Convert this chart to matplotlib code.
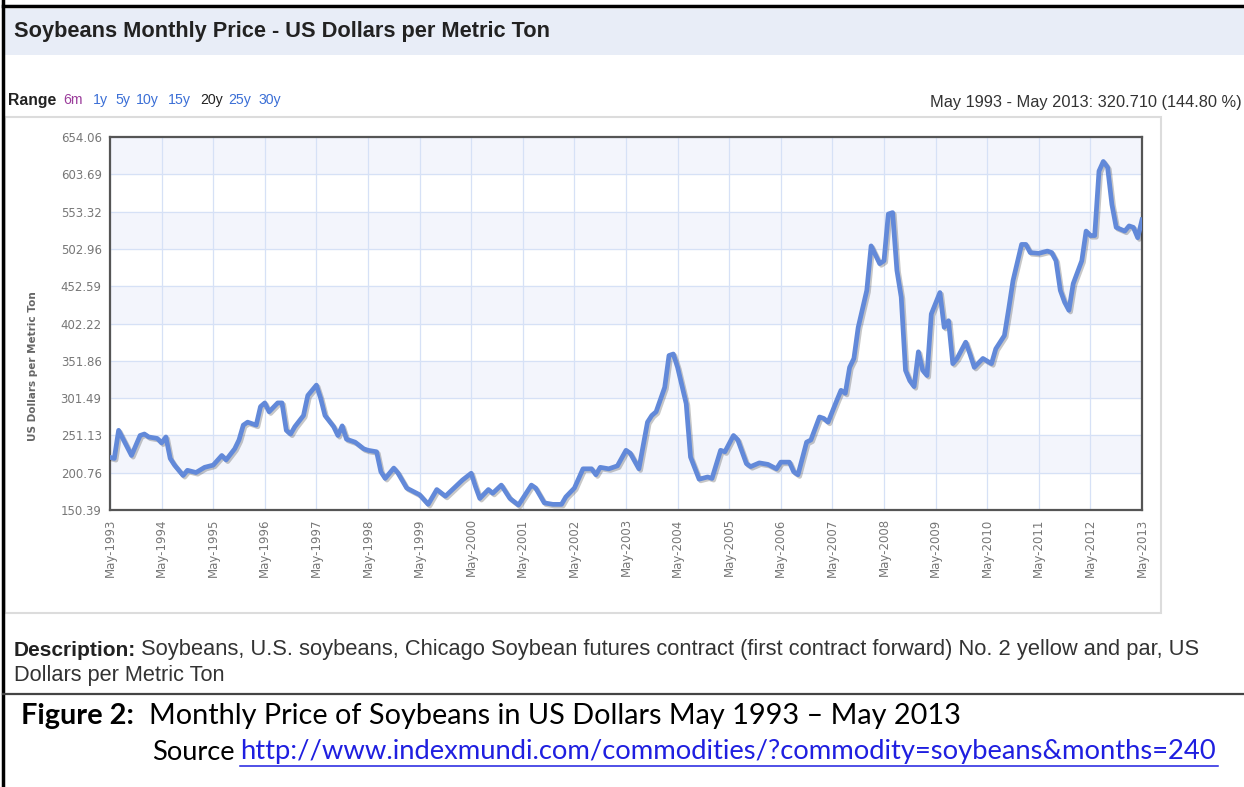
import matplotlib
matplotlib.use("Agg")
import matplotlib.pyplot as plt
import matplotlib.patheffects as pe
from matplotlib.patches import Rectangle
from matplotlib.lines import Line2D

W, H = 1244, 787

# months after May 1993 and price (USD / metric ton)
months = [0, 1, 2, 5, 7, 8, 9, 11, 12, 13, 14, 15, 17, 18, 20, 22, 24, 26, 27, 29,
          30, 31, 32, 34, 35, 36, 37, 39, 40, 41, 42, 43, 45, 46, 48, 49, 50, 52, 53, 54,
          55, 57, 59, 60, 62, 63, 64, 66, 67, 69, 70, 72, 74, 76, 78, 80, 82, 84, 85, 86,
          88, 89, 91, 93, 95, 96, 98, 99, 101, 103, 105, 106, 108, 110, 112, 113, 114, 116, 118, 120,
          121, 123, 125, 126, 127, 129, 130, 131, 132, 134, 135, 137, 139, 140, 142, 143, 145, 146, 148, 149,
          151, 153, 155, 156, 158, 159, 160, 162, 163, 165, 166, 167, 169, 170, 171, 172, 173, 174, 176, 177,
          179, 180, 181, 182, 183, 184, 185, 186, 187, 188, 189, 190, 191, 193, 194, 195, 196, 197, 199, 200,
          201, 203, 205, 206, 208, 209, 210, 212, 213, 214, 216, 218, 219, 220, 221, 222, 223, 224, 226, 227,
          228, 229, 230, 231, 232, 233, 234, 236, 237, 238, 239, 240]
prices = [221.5, 220, 258, 224, 251, 253, 249, 247, 241, 249, 220, 211, 197, 204, 201, 208, 211, 224, 218, 233,
          245, 265, 269, 265, 290, 295, 283, 295, 295, 258, 253, 263, 278, 305, 319, 301, 278, 263, 251, 264,
          246, 242, 233, 231, 229, 202, 193, 207, 200, 180, 177, 171, 158, 178, 169, 180, 191, 200, 182, 166,
          178, 173, 184, 166, 157, 166, 184, 180, 160, 158, 158, 168, 180, 206, 206, 198, 208, 206, 210, 231,
          227, 206, 269, 278, 283, 316, 359, 361, 343, 294, 222, 192, 195, 193, 231, 229, 251, 245, 213, 209,
          214, 212, 206, 215, 215, 202, 198, 242, 245, 276, 274, 269, 298, 312, 308, 343, 355, 397, 447, 507,
          483, 487, 550, 552, 474, 438, 339, 325, 317, 364, 339, 332, 415, 444, 397, 406, 348, 355, 377, 361,
          343, 355, 348, 368, 386, 422, 460, 509, 509, 498, 497, 500, 498, 487, 447, 431, 420, 456, 487, 527,
          521, 521, 608, 621, 613, 563, 532, 527, 534, 532, 518, 542.2]

tick_years = list(range(1993, 2014))
x_labels = ["May-%d" % yr for yr in tick_years]
y_ticks = [150.39, 200.76, 251.13, 301.49, 351.86, 402.22, 452.59, 502.96, 553.32, 603.69, 654.06]
y_labels = ["%.2f" % v for v in y_ticks]

range_words = ["6m", "1y", "5y", "10y", "15y", "20y", "25y", "30y"]
range_colors = ["#9b3d9b", "#3b6fd6", "#3b6fd6", "#3b6fd6", "#3b6fd6", "#222222", "#3b6fd6", "#3b6fd6"]
range_x = [63, 93, 115, 136, 168, 200, 228, 259]

title = "Soybeans Monthly Price - US Dollars per Metric Ton"
change_text = "May 1993 - May 2013: 320.710 (144.80 %)"
desc_line1 = "Soybeans, U.S. soybeans, Chicago Soybean futures contract (first contract forward) No. 2 yellow and par, US"
desc_line2 = "Dollars per Metric Ton"
caption = "Monthly Price of Soybeans in US Dollars May 1993 \u2013 May 2013"
link = "http://www.indexmundi.com/commodities/?commodity=soybeans&months=240"

fig = plt.figure(figsize=(W / 100, H / 100), dpi=100, facecolor="white")
renderer = fig.canvas.get_renderer()


def fx(x):
    return x / W


def fy(y):
    return 1 - y / H


def put(x, y, s, width=None, size=10, **kw):
    # place text by pixel position; optionally scale font to a target pixel width
    t = fig.text(fx(x), fy(y), s, fontsize=size, va="center", **kw)
    if width:
        w = t.get_window_extent(renderer).width
        t.set_fontsize(size * width / w)
    return t


# frame pieces of the screenshot
fig.add_artist(Rectangle((fx(5), fy(55)), fx(1244 - 5), 46 / H, transform=fig.transFigure,
                         facecolor="#e8edf7", edgecolor="none"))
fig.add_artist(Rectangle((fx(5), fy(613)), fx(1161 - 5), 496 / H, transform=fig.transFigure,
                         facecolor="none", edgecolor="#dcdcdc", lw=1.5))
fig.add_artist(Line2D([fx(3), fx(3)], [0, 1], transform=fig.transFigure, color="black", lw=2.5))
fig.add_artist(Line2D([fx(3), 1], [fy(6), fy(6)], transform=fig.transFigure, color="black", lw=2.5))
fig.add_artist(Line2D([fx(3), 1], [fy(694), fy(694)], transform=fig.transFigure, color="#444444", lw=1.6))

# header
put(14, 32, title, width=536, size=13, weight="bold", color="#222222", family="Liberation Sans")
t = put(8, 100, "Range", width=48, size=11, weight="bold", color="#222222", family="Liberation Sans")
rsize = t.get_fontsize() * 0.9
for word, col, x in zip(range_words, range_colors, range_x):
    put(x, 100, word, size=rsize, color=col, family="Liberation Sans")
put(1242, 102, change_text, width=312, size=11, color="#333333", family="Liberation Sans", ha="right")

# chart
ax = fig.add_axes([fx(110), fy(510), 1032 / W, 373 / H])
ax.set_facecolor("white")
for i in range(1, len(y_ticks) - 1, 2):
    ax.axhspan(y_ticks[i], y_ticks[i + 1], color="#f3f5fc", zorder=0)
xt = [12 * (yr - 1993) for yr in tick_years]
ax.set_xticks(xt)
ax.set_xticklabels(x_labels, rotation=90, fontsize=8.5, color="#777777", family="DejaVu Sans")
ax.set_yticks(y_ticks)
ax.set_yticklabels(y_labels, fontsize=8.5, color="#777777", family="DejaVu Sans")
ax.tick_params(length=0, pad=6)
ax.grid(True, color="#d6e1f6", lw=0.9)
ax.set_axisbelow(True)
ax.plot(months, prices, color="#6289d9", lw=3.4, solid_joinstyle="round", zorder=3,
        path_effects=[pe.SimpleLineShadow(offset=(1.2, -1.2), shadow_color="black", alpha=0.22),
                      pe.Normal()])
ax.set_xlim(0, 240)
ax.set_ylim(y_ticks[0], y_ticks[-1])
for s in ax.spines.values():
    s.set_color("#555555")
    s.set_linewidth(1.6)

fig.text(fx(33), fy(366), "US Dollars per Metric Ton", rotation=90, ha="center", va="center",
         fontsize=7.5, weight="bold", color="#666666", family="DejaVu Sans")

# description and caption
put(14, 650, "Description:", width=121, size=12, weight="bold", color="#222222", family="Liberation Sans")
put(141, 650, desc_line1, width=1059, size=12, color="#333333", family="Liberation Sans")
put(14, 675, desc_line2, width=212, size=12, color="#333333", family="Liberation Sans")

put(21, 716, "Figure 2:", width=113, size=16, weight="bold", color="black", family="Lato")
put(149, 716, caption, width=814, size=16, color="black", family="Lato")
put(152, 752, "Source", width=83, size=15, color="black", family="Lato")
put(240, 752, link, width=978, size=15, color="#1f1fe0", family="Lato")
fig.add_artist(Line2D([fx(240), fx(1218)], [fy(766), fy(766)], transform=fig.transFigure,
                      color="#1f1fe0", lw=1.1))

fig.savefig("out.png", dpi=100)
